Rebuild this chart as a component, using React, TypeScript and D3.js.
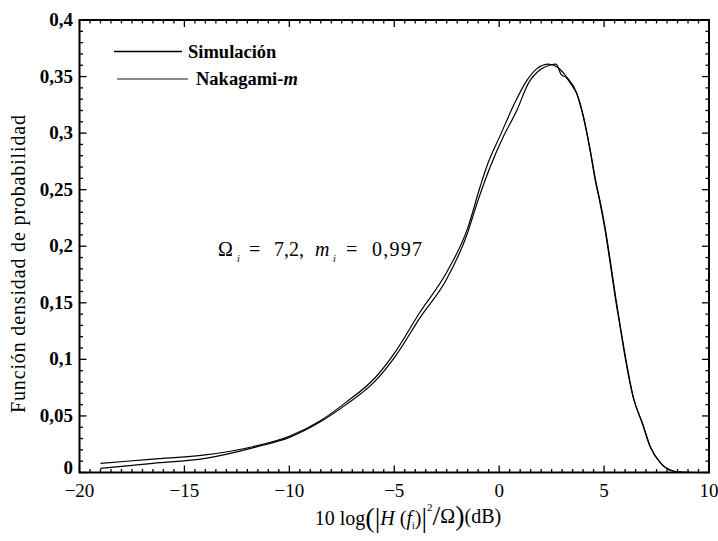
import React from "react";
import * as d3 from "d3";

const xTicks = [-20, -15, -10, -5, 0, 5, 10];
const yTicks = [0, 0.05, 0.1, 0.15, 0.2, 0.25, 0.3, 0.35, 0.4];
const yTickLabels = ["0", "0,05", "0,1", "0,15", "0,2", "0,25", "0,3", "0,35", "0,4"];

const nakX = [-19, -16.5, -14, -11.7, -10, -8.5, -7.3, -5.9, -4.9, -3.8, -2.5, -1.5, -0.9, -0.6, 0.1, 0.7, 1.3, 1.8, 2.35, 2.8, 3.2, 3.7, 4.0, 4.33, 4.57, 4.81, 5.05, 5.29, 5.53, 5.78, 6.0, 6.38, 6.81, 7.19, 7.67, 8.14, 8.6, 9.4];
const nakY = [0.0081, 0.0118, 0.0155, 0.023, 0.032, 0.046, 0.062, 0.084, 0.108, 0.141, 0.177, 0.216, 0.253, 0.27, 0.3, 0.325, 0.346, 0.357, 0.361, 0.358, 0.35, 0.335, 0.315, 0.285, 0.259, 0.238, 0.214, 0.185, 0.155, 0.127, 0.102, 0.067, 0.044, 0.023, 0.009, 0.002, 0.0003, 0];

const simX = [-19, -16.5, -14, -11.7, -10, -8.5, -7.3, -5.9, -4.9, -3.8, -2.5, -1.6, -1.0, -0.43, 0.2, 0.84, 1.39, 1.95, 2.4, 2.71, 2.95, 3.2, 3.4, 3.72, 4.03, 4.35, 4.6, 4.84, 5.08, 5.32, 5.56, 5.8, 6.03, 6.4, 6.84, 7.22, 7.7, 8.2, 8.7, 9.4];
const simY = [0.0037, 0.0081, 0.0125, 0.022, 0.031, 0.045, 0.06, 0.081, 0.104, 0.136, 0.171, 0.207, 0.241, 0.27, 0.297, 0.32, 0.344, 0.356, 0.36, 0.361, 0.352, 0.349, 0.344, 0.334, 0.314, 0.284, 0.258, 0.237, 0.213, 0.184, 0.154, 0.126, 0.101, 0.066, 0.043, 0.022, 0.008, 0.002, 0.0002, 0];

const W = 718, H = 541;
const L = 79.5, R = 709, T = 20, B = 472.5;
const FONT = "'Liberation Serif', 'Times New Roman', serif";

export default function App() {
  const x = d3.scaleLinear().domain([-20, 10]).range([L, R]);
  const y = d3.scaleLinear().domain([0, 0.4]).range([B, T]);
  const line = d3.line<[number, number]>().x(d => x(d[0])).y(d => y(d[1])).curve(d3.curveMonotoneX);
  const nak: [number, number][] = nakX.map((v, i) => [v, nakY[i]]);
  const sim: [number, number][] = simX.map((v, i) => [v, simY[i]]);

  const xMinor = d3.range(-20, 10.001, 0.5).filter(v => Math.abs(v % 5) > 1e-6);
  const yMinor = d3.range(0, 0.4001, 0.01).map(v => +v.toFixed(2)).filter(v => Math.abs((v * 100) % 5) > 1e-6);

  return (
    <svg width={W} height={H} style={{ position: "absolute", left: 0, top: 0, background: "#fff" }} fontFamily={FONT}>
      <rect x={0} y={0} width={W} height={H} fill="#fff" />
      <g stroke="#000" strokeWidth={1.3}>
        {xTicks.map(v => (
          <g key={"xt" + v}>
            <line x1={x(v)} x2={x(v)} y1={B} y2={B - 7} />
            <line x1={x(v)} x2={x(v)} y1={T} y2={T + 7} />
          </g>
        ))}
        {xMinor.map(v => (
          <g key={"xm" + v}>
            <line x1={x(v)} x2={x(v)} y1={B} y2={B - 3.5} />
            <line x1={x(v)} x2={x(v)} y1={T} y2={T + 3.5} />
          </g>
        ))}
        {yTicks.map(v => (
          <g key={"yt" + v}>
            <line x1={L} x2={L + 7} y1={y(v)} y2={y(v)} />
            <line x1={R} x2={R - 7} y1={y(v)} y2={y(v)} />
          </g>
        ))}
        {yMinor.map(v => (
          <g key={"ym" + v}>
            <line x1={L} x2={L + 3.5} y1={y(v)} y2={y(v)} />
            <line x1={R} x2={R - 3.5} y1={y(v)} y2={y(v)} />
          </g>
        ))}
      </g>
      <path d={line(nak) || ""} fill="none" stroke="#000" strokeWidth={1.2} />
      <path d={line(sim) || ""} fill="none" stroke="#000" strokeWidth={1.2} />
      <rect x={L} y={T} width={R - L} height={B - T} fill="none" stroke="#000" strokeWidth={2} />
      {xTicks.map(v => (
        <text key={"xl" + v} x={x(v)} y={497} textAnchor="middle" fontSize={19}>
          {v < 0 ? "\u2212" + Math.abs(v) : String(v)}
        </text>
      ))}
      {yTicks.map((v, i) => (
        <text key={"yl" + v} x={73} y={v === 0 ? y(v) + 1 : y(v) + 6} textAnchor="end" fontSize={19} fontWeight="bold">
          {yTickLabels[i]}
        </text>
      ))}
      <text transform={`translate(25,264) rotate(-90)`} textAnchor="middle" fontSize={20} textLength={298} lengthAdjust="spacing">
        Función densidad de probabilidad
      </text>
      <text x={408} y={525} textAnchor="middle" fontSize={20}>
        <tspan>10 log</tspan>
        <tspan fontSize={28} dy={2}>(</tspan>
        <tspan fontSize={28}>|</tspan>
        <tspan fontStyle="italic" dy={-2}>H</tspan>
        <tspan> (</tspan>
        <tspan fontStyle="italic">f</tspan>
        <tspan fontSize={10} dy={4}>i</tspan>
        <tspan dy={-4}>)</tspan>
        <tspan fontSize={28} dy={2}>|</tspan>
        <tspan fontSize={11} dy={-16}>2</tspan>
        <tspan fontSize={28} dy={14}>/</tspan>
        <tspan dy={-2}>Ω</tspan>
        <tspan fontSize={28} dy={2}>)</tspan>
        <tspan dy={-2}>(dB)</tspan>
      </text>
      <g fontSize={20}>
        <text x={218} y={256}>Ω</text>
        <text x={237} y={262} fontSize={10} fontStyle="italic">i</text>
        <text x={249} y={256}>=</text>
        <text x={274} y={256}>7,2,</text>
        <text x={315} y={256} fontStyle="italic">m</text>
        <text x={333} y={262} fontSize={10} fontStyle="italic">i</text>
        <text x={346} y={256}>=</text>
        <text x={372} y={256} textLength={50} lengthAdjust="spacing">0,997</text>
      </g>
      <line x1={114} x2={182} y1={51.5} y2={51.5} stroke="#000" strokeWidth={1.6} />
      <text x={188} y={57.5} fontSize={18.5} fontWeight="bold">Simulación</text>
      <line x1={117} x2={188} y1={79} y2={79} stroke="#000" strokeWidth={0.9} />
      <text x={196} y={85} fontSize={18.5} fontWeight="bold">
        Nakagami-<tspan fontStyle="italic">m</tspan>
      </text>
    </svg>
  );
}
